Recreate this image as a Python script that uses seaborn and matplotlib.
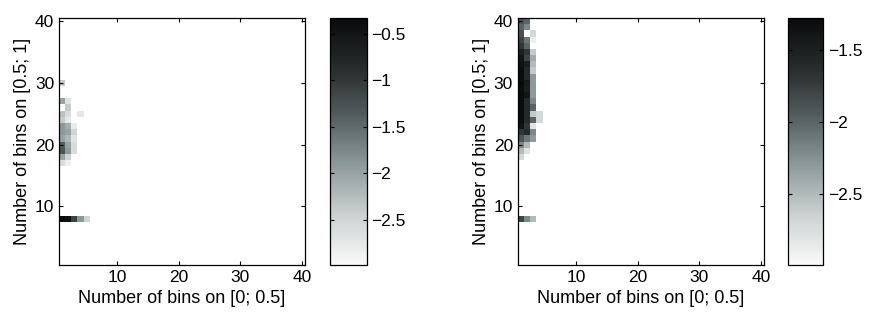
import numpy as np
import matplotlib
matplotlib.use("Agg")
import matplotlib.pyplot as plt
from matplotlib.colors import LinearSegmentedColormap
import seaborn as sns

n_bins = 40
tick_values = [10, 20, 30, 40]

# log-density per row (row index on [0.5; 1]); values listed from column 1 upward
left_rows = {
    8: [-0.33, -0.45, -1.1, -1.9, -2.5],
    17: [-2.6, -2.85],
    18: [-2.0, -2.5],
    19: [-1.3, -1.9, -2.6],
    20: [-1.4, -2.0, -2.6],
    21: [-2.0, -2.2, -2.7],
    22: [-1.9, -2.0, -2.5],
    23: [-1.9, -2.1, -2.8],
    24: [-2.4, -2.75],
    25: [-2.3, -2.6, np.nan, -2.75],
    26: [np.nan, -2.4],
    27: [-2.0, -2.7],
    30: [-2.4],
}
left_limits = (-2.99, -0.33)
left_cticks = [-2.5, -2, -1.5, -1, -0.5]

right_rows = {
    8: [-1.8, -2.2, -2.5],
    18: [-2.7],
    19: [-2.5, -2.8],
    20: [-2.2, -2.5],
    21: [-1.9, -2.1, -2.3],
    22: [-1.7, -1.6, -2.2],
    23: [-1.35, -1.7, -2.8],
    24: [-1.3, -1.6, -2.0, -2.7],
    25: [-1.3, -1.6, -2.6, -2.7],
    26: [-1.3, -1.6, -2.0],
    27: [-1.3, -1.6, -2.2],
    28: [-1.3, -1.4, -2.3],
    29: [-1.3, -1.5, -2.3],
    30: [-1.3, -1.45, -2.3],
    31: [-1.3, -1.6, -2.3],
    32: [-1.3, -1.6, -2.6],
    33: [-1.35, -1.5, -2.5],
    34: [-1.4, -1.8, -2.4],
    35: [-1.5, -1.7, -2.6],
    36: [-1.7, -2.0],
    37: [-1.8, -2.1, -2.9],
    38: [-1.9, np.nan, -2.7],
    39: [-2.0, -2.2],
    40: [-1.9, -2.0],
}
right_limits = (-2.99, -1.28)
right_cticks = [-2.5, -2, -1.5]

xlabel = "Number of bins on [0; 0.5]"
ylabel = "Number of bins on [0.5; 1]"


def build_matrix(rows):
    m = np.full((n_bins, n_bins), np.nan)
    for r, vals in rows.items():
        for c, v in enumerate(vals):
            m[r - 1, c] = v
    return m


# grey map with a faint teal tint, white at the low end
grey_map = LinearSegmentedColormap.from_list(
    "greys_teal",
    [(0.98, 0.98, 0.98), (0.80, 0.82, 0.82), (0.56, 0.61, 0.61),
     (0.33, 0.37, 0.37), (0.15, 0.17, 0.17), (0.04, 0.04, 0.05)])

plt.rcParams['font.family'] = ['Liberation Sans', 'DejaVu Sans']

fig = plt.figure(figsize=(8.72, 3.17), dpi=100)

panels = [
    (left_rows, left_limits, left_cticks, [0.0677, 0.164, 0.282, 0.779], [0.378, 0.164, 0.0424, 0.779]),
    (right_rows, right_limits, right_cticks, [0.594, 0.164, 0.282, 0.779], [0.904, 0.164, 0.040, 0.779]),
]

for rows, (vmin, vmax), cticks, ax_box, cb_box in panels:
    ax = fig.add_axes(ax_box)
    cax = fig.add_axes(cb_box)
    data = build_matrix(rows)
    sns.heatmap(data, ax=ax, cbar_ax=cax, cmap=grey_map, vmin=vmin, vmax=vmax,
                xticklabels=False, yticklabels=False, square=False)
    ax.invert_yaxis()
    ax.set_facecolor("white")
    for s in ax.spines.values():
        s.set_visible(True)
        s.set_color("black")
        s.set_linewidth(0.9)
    ax.set_xticks([t - 0.5 for t in tick_values])
    ax.set_xticklabels([str(t) for t in tick_values])
    ax.set_yticks([t - 0.5 for t in tick_values])
    ax.set_yticklabels([str(t) for t in tick_values], rotation=0)
    ax.tick_params(direction="in", length=3, top=True, right=True, labelsize=12.5)
    ax.set_xlabel(xlabel, fontsize=13, labelpad=4)
    ax.set_ylabel(ylabel, fontsize=13, labelpad=3)

    cb = ax.collections[0].colorbar
    cb.outline.set_visible(True)
    cb.outline.set_linewidth(0.9)
    cb.outline.set_edgecolor("black")
    cb.set_ticks(cticks)
    cb.set_ticklabels([f"{t:g}".replace("-", "\u2212") for t in cticks])
    cax.tick_params(direction="in", length=3, left=True, right=True, labelsize=12.5)

fig.savefig("out.png", dpi=100)
